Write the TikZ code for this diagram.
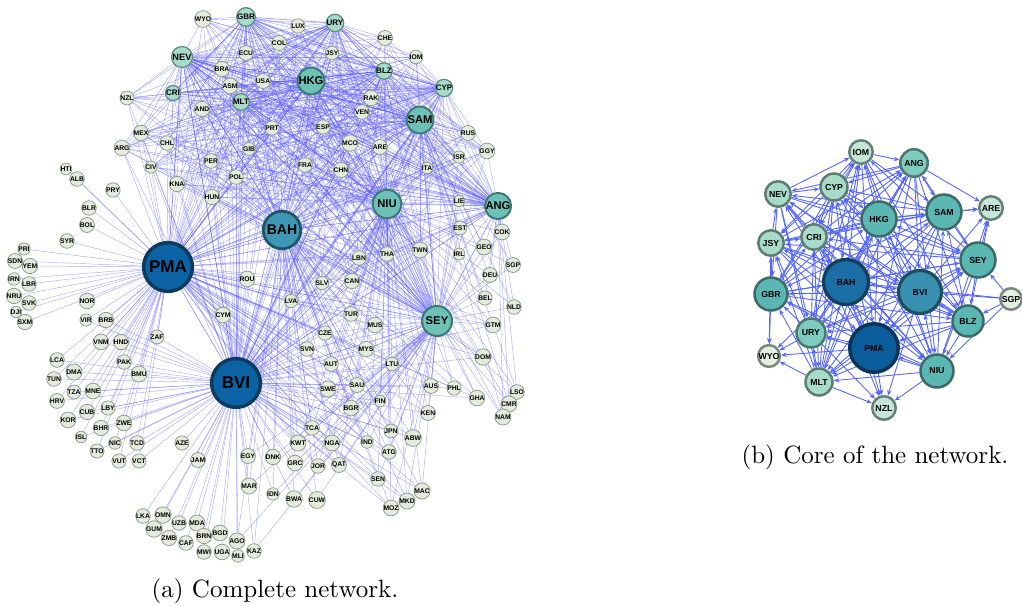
\documentclass[tikz,border=0pt]{standalone}
\usepackage{fontspec}
\newfontfamily\labfont{Liberation Sans}
\usetikzlibrary{arrows.meta,backgrounds}

\definecolor{netblue}{HTML}{5A5AFF}
\definecolor{arcblue}{HTML}{5566FF}
\definecolor{leaffill}{HTML}{E3ECDC}
\definecolor{leafline}{HTML}{8C9A8C}
\definecolor{midfill}{HTML}{A6DACA}
\definecolor{midline}{HTML}{5F8A7F}
\definecolor{tealfill}{HTML}{6DC1B7}
\definecolor{tealline}{HTML}{3E7872}
\definecolor{bahfill}{HTML}{3E97B5}
\definecolor{bahline}{HTML}{1F5566}
\definecolor{hubfill}{HTML}{0B63A6}
\definecolor{hubline}{HTML}{0C3B5C}
% core colours
\definecolor{cpmafill}{HTML}{0A5C9B}
\definecolor{cpmaline}{HTML}{0B3556}
\definecolor{cbahfill}{HTML}{1C6FA6}
\definecolor{cbahline}{HTML}{113F5C}
\definecolor{cbvifill}{HTML}{3A90B1}
\definecolor{cbviline}{HTML}{1E4F5E}
\definecolor{ctealfill}{HTML}{5BB7B4}
\definecolor{ctealline}{HTML}{3E6A66}
\definecolor{cmintfill}{HTML}{7ECBC0}
\definecolor{cmintline}{HTML}{4E7770}
\definecolor{cpalefill}{HTML}{A7DCCA}
\definecolor{cpaleline}{HTML}{5E7C72}
\definecolor{clightfill}{HTML}{C4E7D7}
\definecolor{clightline}{HTML}{667F77}
\definecolor{cfaintfill}{HTML}{E4F0E0}
\definecolor{cfaintline}{HTML}{7A877F}

\tikzset{
  vtx/.style={circle, draw, inner sep=0pt, text=black},
  leaf/.style={vtx, fill=leaffill, draw=leafline, line width=0.3pt, minimum size=4.6pt,
    font={\labfont\bfseries\fontsize{2.7pt}{2.7pt}\selectfont}},
  midtier/.style={vtx, fill=midfill, draw=midline, line width=0.5pt, minimum size=#1,
    font={\labfont\bfseries\fontsize{3.2pt}{3.2pt}\selectfont}},
  tealhub/.style={vtx, fill=tealfill, draw=tealline, line width=0.8pt, minimum size=#1,
    font={\labfont\bfseries\fontsize{4.5pt}{4.5pt}\selectfont}},
  net/.style={draw=netblue, draw opacity=0.5, line width=0.18pt},
  arc/.style={draw=arcblue, line width=0.35pt, -{Stealth[length=2.2pt,width=1.8pt]}},
  core/.style={vtx, line width=1pt, minimum size=#1,
    font={\labfont\bfseries\fontsize{3.5pt}{3.5pt}\selectfont}},
}

\begin{document}
\begin{tikzpicture}[x=0.4pt, y=-0.4pt]
\useasboundingbox (0,0) rectangle (1022,606);

% complete network: hubs
\node[vtx, fill=hubfill, draw=hubline, line width=1.4pt, minimum size=19.5pt,
  font={\labfont\bfseries\fontsize{6.8pt}{6.8pt}\selectfont}] (PMA) at (168,267) {PMA};
\node[vtx, fill=hubfill, draw=hubline, line width=1.4pt, minimum size=19.5pt,
  font={\labfont\bfseries\fontsize{6.8pt}{6.8pt}\selectfont}] (BVI) at (236,383) {BVI};
\node[vtx, fill=bahfill, draw=bahline, line width=1.1pt, minimum size=15pt,
  font={\labfont\bfseries\fontsize{5.6pt}{5.6pt}\selectfont}] (BAH) at (282,230) {BAH};
\node[tealhub=11.4pt] (NIU) at (387,204) {NIU};
\node[tealhub=12pt] (SEY) at (437,321) {SEY};
\node[tealhub=10.8pt] (SAM) at (420,120) {SAM};
\node[tealhub=10.8pt] (HKG) at (311,81) {HKG};
\node[tealhub=10pt] (ANG) at (498,206) {ANG};
\node[midtier=8.4pt, font={\labfont\bfseries\fontsize{3.7pt}{3.7pt}\selectfont}] (NEV) at (182,57) {NEV};
\foreach \n/\x/\y/\d in {GBR/246/17/7pt, URY/335/23/7pt, CYP/444/88/6.6pt, BLZ/384/71/6.4pt,
    MLT/241/102/6.4pt, CRI/173/93/6pt}
  \node[midtier=\d] (\n) at (\x,\y) {\n};

% complete network: leaves
\def\grpW{PRI,SDN,YEM,IRN,LBR,NRU,SVK,DJI,SXM,SYR,BOL,BLR,HTI,ALB,NOR,PRY}
\def\grpSW{VIR,BRB,VNM,HND,ZAF,LCA,PAK,DMA,BMU,TUN,TZA,MNE,HRV,CUB,LBY,KOR,BHR,ZWE,ISL,NIC,TCD,TTO,VUT,VCT,CYM,ROU}
\def\grpS{AZE,JAM,EGY,MAR,LKA,OMN,GUM,UZB,MDA,ZMB,BRN,BGD,CAF,AGO,MWI,UGA,MLI,KAZ,IDN,BWA,CUW,DNK,GRC}
\def\grpSE{SWE,SAU,AUS,PHL,GHA,FIN,BGR,KEN,TCA,JPN,ABW,KWT,NGA,IND,ATG,JOR,QAT,SEN,MAC,MKD,MOZ,DOM,GTM,LTU,MYS,AUT,SVN,MUS,CZE,TUR}
\def\grpE{LSO,CMR,NAM,NLD,BEL,DEU,SGP,GEO,COK,IRL,EST,LIE}
\def\grpC{WYO,LUX,CHE,IOM,ECU,COL,JSY,BRA,USA,RAK,ASM,NZL,AND,PRT,ESP,VEN,RUS,MEX,CHL,ARG,GIB,MCO,ARE,GGY,ISR,PER,CIV,FRA,CHN,ITA,POL,KNA,HUN,TWN,THA,LBN,CAN,SLV,LVA}
\def\grpMid{NEV,GBR,URY,CYP,BLZ,MLT,CRI}
\def\grpHub{PMA,BVI,BAH,NIU,SAM,HKG,SEY,ANG,NEV}

\foreach \n/\x/\y in {PRI/24/249, SDN/15/261, YEM/30/266, IRN/14/279, LBR/29/284, NRU/14/296,
    SVK/29/303, DJI/16/312, SXM/25/322, SYR/67/241, BOL/87/225, BLR/89/208, HTI/66/169,
    ALB/77/179, NOR/87/301, PRY/113/190,
    VIR/86/320, BRB/106/320, VNM/101/342, HND/121/342, ZAF/157/337, LCA/57/360, PAK/124/362,
    DMA/74/372, BMU/139/374, TUN/54/379, TZA/74/392, MNE/93/391, HRV/57/401, CUB/87/412,
    LBY/108/408, KOR/68/420, BHR/101/428, ZWE/124/423, ISL/81/437, NIC/115/443, TCD/137/443,
    TTO/97/451, VUT/119/461, VCT/139/461, CYM/223/315, ROU/247/279,
    AZE/182/443, JAM/198/460, EGY/248/456, MAR/249/486, LKA/143/516, OMN/163/515, GUM/154/529,
    UZB/179/523, MDA/197/523, ZMB/169/538, BRN/204/536, BGD/220/533, CAF/186/543, AGO/237/541,
    MWI/204/552, UGA/222/552, MLI/238/556, KAZ/254/551, IDN/273/494, BWA/294/499, CUW/317/500,
    DNK/273/457, GRC/295/463,
    SWE/328/389, SAU/357/385, AUS/431/386, PHL/454/388, GHA/477/398, FIN/380/401, BGR/351/408,
    KEN/428/413, TCA/312/428, JPN/391/431, ABW/413/438, KWT/298/443, NGA/332/443, IND/367/442,
    ATG/389/452, JOR/318/466, QAT/339/465, SEN/378/479, MAC/422/491, MKD/407/501, MOZ/391/508,
    DOM/483/357, GTM/493/325, LTU/392/364, MYS/366/349, AUT/331/364, SVN/307/349, MUS/375/325,
    CZE/325/333, TUR/351/314,
    LSO/517/392, CMR/509/404, NAM/503/417, NLD/514/307, BEL/485/298, DEU/490/275, SGP/513/265,
    GEO/484/247, COK/502/232, IRL/459/254, EST/460/228, LIE/459/201,
    WYO/203/19, LUX/298/26, CHE/385/38, IOM/416/57, ECU/246/53, COL/279/43, JSY/332/53,
    BRA/222/69, USA/263/81, RAK/371/98, ASM/230/86, NZL/127/98, AND/202/109, PRT/272/128,
    ESP/323/127, VEN/362/112, RUS/468/133, MEX/141/133, CHL/167/143, ARG/122/148, GIB/249/149,
    MCO/350/143, ARE/380/147, GGY/487/151, ISR/459/157, PER/211/161, CIV/151/167, FRA/305/165,
    CHN/341/170, ITA/427/168, POL/236/177, KNA/177/184, HUN/212/197, TWN/420/250, THA/387/254,
    LBN/359/258, CAN/352/281, SLV/322/283, LVA/291/301}
  \node[leaf] (\n) at (\x,\y) {\n};

\begin{scope}[on background layer]
  \foreach \a in \grpW \draw[net] (\a) -- (PMA);
  \foreach \a in \grpSW {\draw[net] (\a) -- (PMA); \draw[net] (\a) -- (BVI);}
  \foreach \a in \grpS {\draw[net] (\a) -- (BVI);}
  \foreach \a in {EGY,MAR,IDN,BWA,CUW,DNK,GRC,KAZ,AGO} {\draw[net] (\a) -- (BAH); \draw[net] (\a) -- (SEY);}
  \foreach \a in \grpSE \foreach \b in {BVI,SEY,NIU,BAH,PMA} \draw[net] (\a) -- (\b);
  \foreach \a in \grpE \foreach \b in {SEY,NIU,ANG,SAM} \draw[net] (\a) -- (\b);
  \foreach \a in \grpC \foreach \b in \grpHub \draw[net] (\a) -- (\b);
  \foreach \a in \grpC \foreach \b in {GBR,URY,CYP,BLZ,MLT} \draw[net] (\a) -- (\b);
  \foreach \a in \grpMid \foreach \b in \grpHub \draw[net] (\a) -- (\b);
  \foreach \a in {GBR,URY,CYP,BLZ,MLT,CRI} \foreach \b in {GBR,URY,CYP,BLZ,MLT,CRI} \draw[net] (\a) -- (\b);
  \foreach \a in \grpHub \foreach \b in \grpHub \draw[net] (\a) -- (\b);
\end{scope}

\node (capa) at (275,591) {(a) Complete network.};

% core of the network
\node[core=19.4pt, fill=cpmafill, draw=cpmaline, line width=1.4pt] (cPMA) at (874,348) {PMA};
\node[core=18pt, fill=cbahfill, draw=cbahline, line width=1.3pt] (cBAH) at (846,282) {BAH};
\node[core=17.2pt, fill=cbvifill, draw=cbviline, line width=1.3pt] (cBVI) at (920,292) {BVI};
\foreach \n/\x/\y/\d in {HKG/879/219/14pt, SAM/944/212/14pt, SEY/978/260/14pt, NIU/937/371/13.2pt,
    GBR/771/294/13.2pt, BLZ/968/321/12.4pt}
  \node[core=\d, fill=ctealfill, draw=ctealline] (c\n) at (\x,\y) {\n};
\foreach \n/\x/\y/\d in {URY/811/333/11.6pt, ANG/914/163/11pt}
  \node[core=\d, fill=cmintfill, draw=cmintline] (c\n) at (\x,\y) {\n};
\foreach \n/\x/\y/\d in {CYP/834/187/10.8pt, CRI/814/237/10.2pt, MLT/819/382/10.8pt,
    JSY/771/243/10.2pt, NEV/778/194/10.2pt}
  \node[core=\d, fill=cpalefill, draw=cpaleline] (c\n) at (\x,\y) {\n};
\foreach \n/\x/\y in {IOM/861/152, ARE/991/208, NZL/884/408}
  \node[core=9.4pt, fill=clightfill, draw=clightline] (c\n) at (\x,\y) {\n};
\foreach \n/\x/\y in {SGP/1011/299, WYO/769/356}
  \node[core=8.6pt, fill=cfaintfill, draw=cfaintline] (c\n) at (\x,\y) {\n};

\def\corelist{PMA,BAH,BVI,HKG,SAM,SEY,NIU,GBR,BLZ,URY,ANG,CYP,CRI,MLT,JSY,NEV,IOM}
\begin{scope}[on background layer]
  \foreach \a [count=\i] in \corelist {
    \foreach \b [count=\j] in \corelist {
      \ifnum\j>\i
        \ifodd\numexpr\i+\j\relax \draw[arc] (c\a) -- (c\b); \else \draw[arc] (c\b) -- (c\a); \fi
      \fi
    }
  }
  \foreach \b in {SAM,SEY,BLZ,ANG,HKG,BVI,NIU} \draw[arc] (c\b) -- (cARE);
  \foreach \b in {SEY,BLZ,BVI,BAH,NIU} \draw[arc] (cSGP) -- (c\b);
  \foreach \b in {MLT,PMA,NIU,URY,BAH,BVI,CRI} \draw[arc] (c\b) -- (cNZL);
  \foreach \b in {GBR,URY,MLT,PMA,BAH,JSY} \draw[arc] (c\b) -- (cWYO);
\end{scope}

\node (capb) at (875,457) {(b) Core of the network.};
\end{tikzpicture}
\end{document}
